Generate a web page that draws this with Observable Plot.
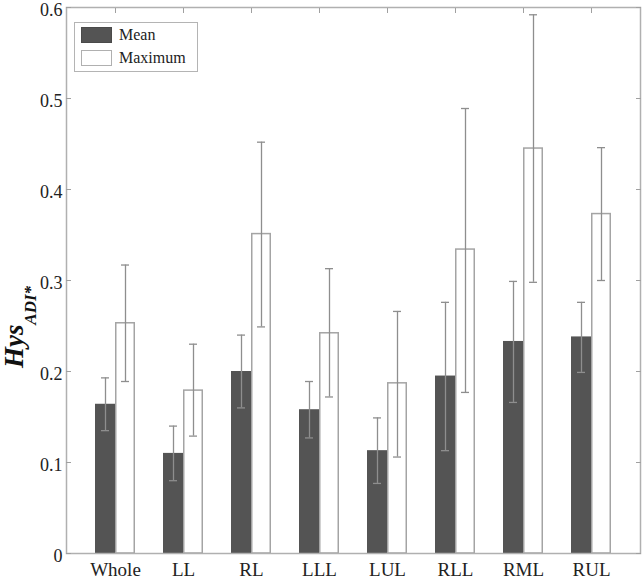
<!DOCTYPE html>
<html>
<head>
<meta charset="utf-8">
<script src="https://cdn.jsdelivr.net/npm/d3@7"></script>
<script src="https://cdn.jsdelivr.net/npm/@observablehq/plot@0.6"></script>
<style>
  html, body { margin: 0; padding: 0; background: #fff; }
  #wrap { position: relative; width: 642px; height: 582px; }
  #legend {
    position: absolute; left: 74px; top: 22px; width: 122px; height: 48px;
    border: 1.5px solid #b4b4b4; background: #fff;
    font-family: "Liberation Serif", serif; font-size: 16px; color: #222;
  }
  .li { position: absolute; left: 6px; height: 17px; display: flex; align-items: center; }
  .sw { width: 31px; height: 16px; box-sizing: border-box; margin-right: 7px; }
</style>
</head>
<body>
<div id="wrap">
  <div id="chart"></div>
  <div id="legend">
    <div class="li" style="top:3px"><div class="sw" style="background:#545454;border:1px solid #4a4a4a"></div><span>Mean</span></div>
    <div class="li" style="top:26px"><div class="sw" style="background:#fff;border:1.5px solid #b0b0b0"></div><span>Maximum</span></div>
  </div>
</div>
<script>
const categories = ["Whole", "LL", "RL", "LLL", "LUL", "RLL", "RML", "RUL"];
const meanVal = [0.164, 0.110, 0.200, 0.158, 0.113, 0.195, 0.233, 0.238];
const meanLo  = [0.135, 0.080, 0.160, 0.127, 0.077, 0.113, 0.166, 0.199];
const meanHi  = [0.193, 0.140, 0.240, 0.189, 0.149, 0.276, 0.299, 0.276];
const maxVal  = [0.253, 0.179, 0.351, 0.242, 0.187, 0.334, 0.445, 0.373];
const maxLo   = [0.189, 0.129, 0.249, 0.172, 0.106, 0.177, 0.298, 0.300];
const maxHi   = [0.317, 0.230, 0.452, 0.313, 0.266, 0.489, 0.592, 0.446];
const yTicks  = [0, 0.1, 0.2, 0.3, 0.4, 0.5, 0.6];

const rows = categories.map((c, i) => ({
  cat: c, mean: meanVal[i], meanLo: meanLo[i], meanHi: meanHi[i],
  max: maxVal[i], maxLo: maxLo[i], maxHi: maxHi[i]
}));

const errColor = "#8e8e8e";
const fmt = d => d === 0 ? "0" : d3.format(".1f")(d);

const chart = Plot.plot({
  width: 642,
  height: 582,
  marginLeft: 66,
  marginRight: 2,
  marginTop: 7,
  marginBottom: 29,
  style: { background: "#fff", fontFamily: "Liberation Serif, serif", fontSize: "19px", color: "#222" },
  x: { type: "band", domain: categories, paddingInner: 0, paddingOuter: 0.22, label: null },
  y: { domain: [0, 0.6], label: null },
  marks: [
    Plot.barY(rows, { x: "cat", y: "mean", fill: "#545454", insetLeft: 24, insetRight: 24, dx: -10 }),
    Plot.barY(rows, { x: "cat", y: "max", fill: "#fff", stroke: "#a4a4a4", strokeWidth: 1.5, insetLeft: 24.75, insetRight: 24.75, dx: 10 }),
    Plot.ruleX(rows, { x: "cat", y1: "meanLo", y2: "meanHi", dx: -10, stroke: errColor, strokeWidth: 1.3 }),
    Plot.tickY(rows, { x: "cat", y: "meanLo", dx: -10, insetLeft: 30, insetRight: 30, stroke: errColor, strokeWidth: 1.3 }),
    Plot.tickY(rows, { x: "cat", y: "meanHi", dx: -10, insetLeft: 30, insetRight: 30, stroke: errColor, strokeWidth: 1.3 }),
    Plot.ruleX(rows, { x: "cat", y1: "maxLo", y2: "maxHi", dx: 10, stroke: errColor, strokeWidth: 1.3 }),
    Plot.tickY(rows, { x: "cat", y: "maxLo", dx: 10, insetLeft: 30, insetRight: 30, stroke: errColor, strokeWidth: 1.3 }),
    Plot.tickY(rows, { x: "cat", y: "maxHi", dx: 10, insetLeft: 30, insetRight: 30, stroke: errColor, strokeWidth: 1.3 }),
    Plot.frame({ stroke: "#b0b0b0", strokeWidth: 1.5 }),
    Plot.axisY({ ticks: yTicks, tickSize: 0, tickPadding: 4, tickFormat: fmt, label: null, fill: "#222", fontSize: 18, dy: 3 }),
    Plot.axisY({ ticks: yTicks, tickSize: -5, tickFormat: () => "", label: null, stroke: "#a0a0a0" }),
    Plot.axisY({ anchor: "right", ticks: yTicks, tickSize: -5, tickFormat: () => "", label: null, stroke: "#a0a0a0" }),
    Plot.axisX({ anchor: "top", tickSize: -5, tickFormat: () => "", label: null, stroke: "#a0a0a0" }),
    Plot.axisX({ anchor: "bottom", tickSize: 0, tickPadding: 9, label: null, fill: "#222" })
  ]
});
document.getElementById("chart").appendChild(chart);

// Y axis title with subscript
const svg = d3.select(chart);
const t = svg.append("text")
  .attr("transform", "translate(23,327) rotate(-90)")
  .attr("font-family", "Liberation Serif, serif")
  .attr("font-weight", "bold")
  .attr("font-style", "italic")
  .attr("fill", "#111");
t.append("tspan").attr("font-size", 27).text("Hys");
t.append("tspan").attr("font-size", 17).attr("dy", 13).text("ADI*");
</script>
</body>
</html>
